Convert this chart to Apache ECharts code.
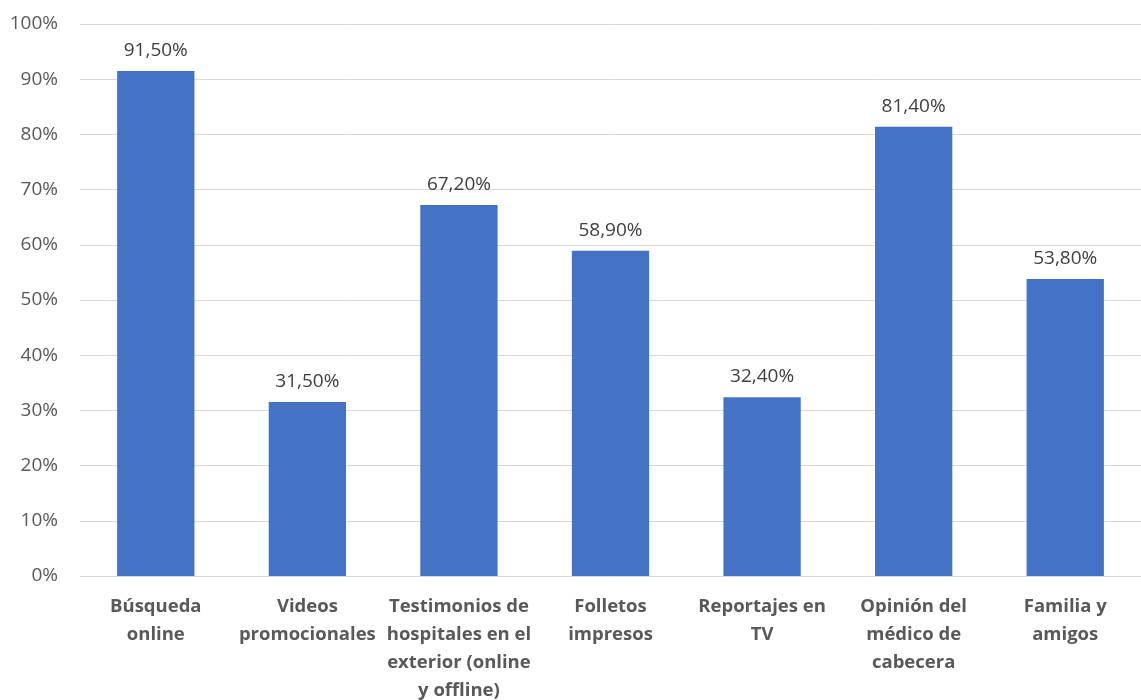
<!DOCTYPE html>
<html>
<head>
<meta charset="utf-8">
<script src="https://cdn.jsdelivr.net/npm/echarts@6/dist/echarts.min.js"></script>
<style>
  html, body { margin: 0; padding: 0; background: #fff; }
  #main { width: 1141px; height: 700px; }
</style>
</head>
<body>
<div id="main"></div>
<script>
// categories (line breaks as in the picture)
var categories = [
  'Búsqueda\nonline',
  'Videos\npromocionales',
  'Testimonios de\nhospitales en el\nexterior (online\ny offline)',
  'Folletos\nimpresos',
  'Reportajes en\nTV',
  'Opinión del\nmédico de\ncabecera',
  'Familia y\namigos'
];
// percent values
var values = [91.5, 31.5, 67.2, 58.9, 32.4, 81.4, 53.8];
var yTicks = [0, 10, 20, 30, 40, 50, 60, 70, 80, 90, 100];

var chartDom = document.getElementById('main');
var myChart = echarts.init(chartDom);
var option;

option = {
  animation: false,
  textStyle: { fontFamily: 'Open Sans, Liberation Sans, sans-serif' },
  grid: { left: 80, right: 0, top: 24, bottom: 124, outerBoundsMode: 'none', containLabel: false },
  xAxis: {
    type: 'category',
    data: categories,
    axisLine: { show: true, lineStyle: { color: '#d9d9d9', width: 1 } },
    axisTick: { show: false },
    axisLabel: {
      interval: 0,
      margin: 17,
      color: '#595959',
      fontSize: 18.5,
      fontWeight: 'bold',
      lineHeight: 28,
      fontFamily: 'Open Sans, Liberation Sans, sans-serif'
    }
  },
  yAxis: {
    type: 'value',
    min: yTicks[0],
    max: yTicks[yTicks.length - 1],
    interval: 10,
    axisLine: { show: false },
    axisTick: { show: false },
    splitLine: { lineStyle: { color: '#d9d9d9', width: 1 } },
    axisLabel: {
      color: '#595959',
      fontSize: 19,
      margin: 22,
      formatter: function (v) { return v + '%'; }
    }
  },
  series: [
    {
      type: 'bar',
      data: values,
      barWidth: '51%',
      itemStyle: { color: '#4472C4' },
      label: {
        show: true,
        position: 'top',
        distance: 11,
        color: '#404040',
        fontSize: 19,
        formatter: function (p) { return p.value.toFixed(2).replace('.', ',') + '%'; }
      }
    }
  ]
};

option && myChart.setOption(option);
</script>
</body>
</html>
